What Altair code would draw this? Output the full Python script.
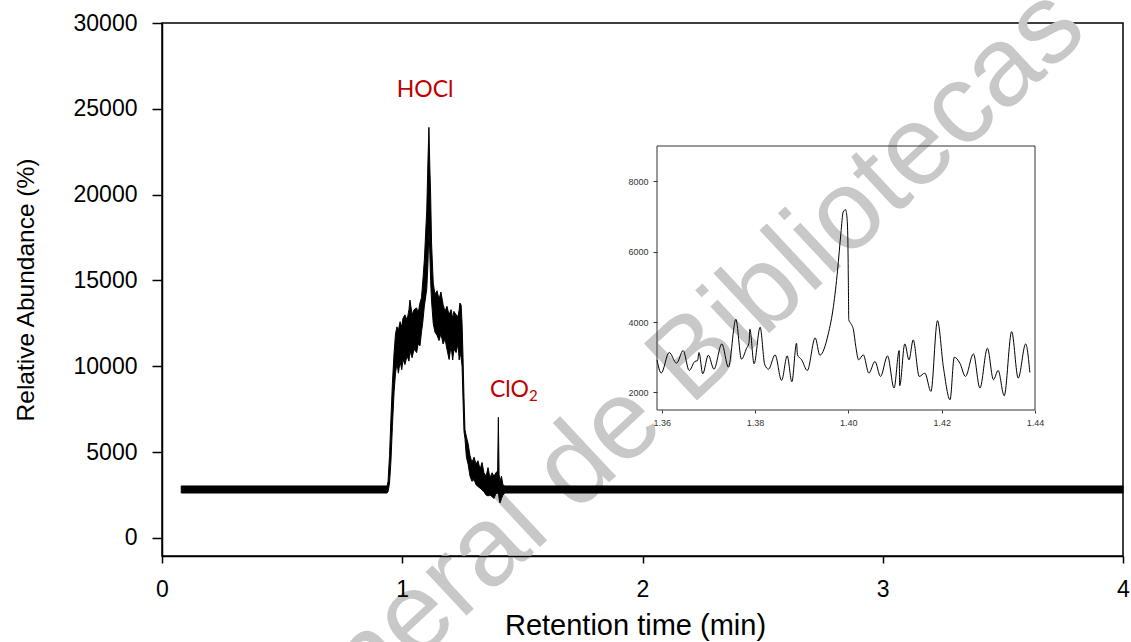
import altair as alt
import pandas as pd

# ---------------- data ----------------
# main chromatogram: retention time (min) with the low / high envelope of the noisy signal
trace_t = [0.080, 0.937, 0.941, 0.947, 0.953, 0.959, 0.966, 0.972, 0.978, 0.984,
           0.991, 0.998, 1.003, 1.011, 1.020, 1.028, 1.032, 1.041, 1.049, 1.060,
           1.066, 1.074, 1.080, 1.085, 1.092, 1.102, 1.107, 1.111, 1.115, 1.118,
           1.122, 1.129, 1.136, 1.145, 1.153, 1.161, 1.170, 1.178, 1.186, 1.195,
           1.203, 1.210, 1.215, 1.224, 1.232, 1.237, 1.240, 1.245, 1.249, 1.253,
           1.257, 1.261, 1.267, 1.274, 1.282, 1.290, 1.299, 1.307, 1.315, 1.324,
           1.332, 1.340, 1.349, 1.357, 1.365, 1.374, 1.382, 1.390, 1.397, 1.400,
           1.403, 1.407, 1.413, 1.419, 1.427, 4.000]
trace_lo = [2620, 2620, 2700, 3200, 4500, 6500, 8500, 9600, 10200, 9600,
            10300, 9800, 10400, 10100, 10600, 10300, 10900, 10500, 11000, 10800,
            11300, 11200, 12000, 12500, 13500, 14500, 16000, 18000, 16500, 15000,
            13800, 12500, 12000, 11800, 11500, 11900, 11300, 11600, 11000, 10400,
            11200, 10370, 11000, 10800, 11300, 10370, 10800, 10500, 10000, 8000,
            6200, 5800, 4700, 4300, 3600, 3300, 3400, 3100, 3000, 2900,
            2800, 2700, 2500, 2450, 2500, 2400, 2300, 2600, 2600, 2700,
            2300, 2040, 2300, 2500, 2620, 2620]
trace_hi = [3030, 3030, 3300, 4800, 7000, 9000, 10800, 11900, 12300, 12100,
            12600, 12300, 12800, 13000, 12700, 13300, 13860, 13000, 13300, 13400,
            13100, 13700, 14000, 14850, 16190, 19100, 22000, 23920, 21500, 20100,
            17180, 14850, 14200, 14400, 13900, 14330, 13600, 13200, 13500, 13000,
            13300, 12800, 13200, 13000, 12900, 13300, 13690, 13570, 12500, 10500,
            8200, 6300, 5900, 5500, 4800, 4400, 4700, 4300, 4500, 4000,
            4400, 3800, 3600, 4100, 3500, 3800, 3600, 3800, 3900, 7030,
            3700, 3300, 3600, 3100, 3030, 3030]

# inset: zoom on the ClO2 peak
inset_t = [1.3590, 1.3599, 1.3616, 1.3632, 1.3646, 1.3659, 1.3671, 1.3677, 1.3680, 1.3688,
           1.3700, 1.3712, 1.3729, 1.3743, 1.3759, 1.3771, 1.3782, 1.3787, 1.3789, 1.3798,
           1.3811, 1.3821, 1.3829, 1.3843, 1.3857, 1.3869, 1.3879, 1.3889, 1.3891, 1.3900,
           1.3912, 1.3929, 1.3939, 1.3957, 1.3968, 1.3977, 1.3984, 1.3989, 1.3994, 1.3997,
           1.3999, 1.4000, 1.4001, 1.4005, 1.4011, 1.4016, 1.4022, 1.4032, 1.4044, 1.4057,
           1.4069, 1.4084, 1.4098, 1.4109, 1.4110, 1.4121, 1.4130, 1.4139, 1.4152, 1.4164,
           1.4177, 1.4191, 1.4204, 1.4218, 1.4227, 1.4239, 1.4251, 1.4268, 1.4282, 1.4298,
           1.4311, 1.4321, 1.4334, 1.4350, 1.4364, 1.4380, 1.4389]
inset_v = [2925, 2548, 3133, 2831, 3189, 2623, 2878, 2906, 3133, 2529,
           3057, 2661, 3378, 2717, 4077, 2944, 3256, 3397, 3794, 2812,
           3850, 2784, 2661, 3067, 2340, 3038, 2302, 3397, 3067, 2925,
           2623, 3548, 3057, 3661, 4436, 5474, 6512, 7126, 7192, 6984,
           6324, 5191, 4058, 3964, 3775, 3303, 2925, 3067, 2548, 2878,
           2453, 3038, 2123, 3189, 2189, 3378, 2925, 3492, 2453, 2548,
           2028, 4039, 2689, 1792, 3001, 2831, 2453, 3095, 2123, 3256,
           2359, 2623, 1906, 3727, 2406, 3378, 2566]

main_x_domain = [0, 4]
main_y_domain = [-1050, 30000]
main_x_ticks = [0, 1, 2, 3, 4]
main_y_ticks = [0, 5000, 10000, 15000, 20000, 25000, 30000]
inset_x_domain = [1.359, 1.44]
inset_y_domain = [1500, 9000]
inset_x_ticks = [1.36, 1.38, 1.40, 1.42, 1.44]
inset_y_ticks = [2000, 4000, 6000, 8000]

label_text = ["HOCl", "ClO", "2"]
label_t = [0.977, 1.365, 1.528]
label_v = [25706, 8213, 7980]
label_size = [23, 23, 15]

watermark_text = ["General de Bibliotecas"]

# ---------------- chart ----------------
W, H = 961, 533
AX_FONT = "Liberation Sans"

trace = pd.DataFrame({"t": trace_t, "lo": trace_lo, "hi": trace_hi})
labels = pd.DataFrame({"t": label_t, "v": label_v, "label": label_text, "size": label_size})
inset = pd.DataFrame({"t": inset_t, "v": inset_v})
frame = pd.DataFrame({"t": [inset_x_domain[0]], "t2": [inset_x_domain[1]],
                      "v": [inset_y_domain[0]], "v2": [inset_y_domain[1]]})
wm = pd.DataFrame({"text": watermark_text})


def main_x(field):
    return alt.X(field, scale=alt.Scale(domain=main_x_domain, nice=False, zero=False),
                 axis=alt.Axis(values=main_x_ticks, format="d", orient="bottom", grid=False,
                               labelFont=AX_FONT, labelFontSize=23, labelColor="black",
                               labelPadding=15, labelFlush=False, labelOverlap=False,
                               tickSize=7, tickColor="black", tickWidth=1.5,
                               domainColor="black", domainWidth=1.5,
                               title="Retention time (min)", titleFont=AX_FONT,
                               titleFontSize=29, titleFontWeight="normal", titleColor="black",
                               titleX=473, titleY=78, titleBaseline="alphabetic",
                               titleAlign="center", zindex=1))


def main_y(field):
    return alt.Y(field, scale=alt.Scale(domain=main_y_domain, nice=False, zero=False),
                 axis=alt.Axis(values=main_y_ticks, format="d", orient="left", grid=False,
                               labelFont=AX_FONT, labelFontSize=23, labelColor="black",
                               labelPadding=15, labelFlush=False, labelOverlap=False,
                               tickSize=10, tickColor="black", tickWidth=1.5,
                               domainColor="black", domainWidth=1.5,
                               title="Relative Abundance (%)", titleFont=AX_FONT,
                               titleFontSize=24.5, titleFontWeight="normal", titleColor="black",
                               titleX=-129, titleBaseline="alphabetic", zindex=1))


def inset_x(field):
    return alt.X(field, scale=alt.Scale(domain=inset_x_domain, range=[495, 873], nice=False, zero=False),
                 axis=alt.Axis(values=inset_x_ticks, format=".2f", orient="bottom", offset=-146,
                               grid=False, domain=False, labelFont=AX_FONT, labelFontSize=9,
                               labelColor="#333333", labelPadding=5, labelFlush=False,
                               labelOverlap=False, tickSize=3, tickColor="#333333", title=None,
                               zindex=1))


def inset_y(field):
    return alt.Y(field, scale=alt.Scale(domain=inset_y_domain, range=[387, 123], nice=False, zero=False),
                 axis=alt.Axis(values=inset_y_ticks, format="d", orient="left", offset=-495,
                               grid=False, domain=False, labelFont=AX_FONT, labelFontSize=9,
                               labelColor="#333333", labelPadding=5, labelFlush=False,
                               labelOverlap=False, tickSize=4, tickColor="#333333", title=None,
                               zindex=1))


watermark = alt.Chart(wm).mark_text(
    font=AX_FONT, fontSize=113, color="#c8c8c8", align="right", baseline="alphabetic", angle=317
).encode(x=alt.value(928), y=alt.value(11), text="text:N")

area = alt.Chart(trace).mark_area(color="black", stroke="black", strokeWidth=1).encode(
    x=main_x("t:Q"), y=main_y("lo:Q"), y2="hi:Q")

text = alt.Chart(labels).mark_text(font="Lato", color="#C00000", align="left",
                                   baseline="alphabetic").encode(
    x=main_x("t:Q"), y=main_y("v:Q"), text="label:N", size=alt.Size("size:Q", scale=None))

main = alt.layer(watermark, area, text)

inset_line = alt.Chart(inset).mark_line(color="black", strokeWidth=1, interpolate="monotone").encode(
    x=inset_x("t:Q"), y=inset_y("v:Q"))
inset_box = alt.Chart(frame).mark_rect(fillOpacity=0, stroke="#333333", strokeWidth=1).encode(
    x=inset_x("t:Q"), x2="t2:Q", y=inset_y("v:Q"), y2="v2:Q")

inset_chart = alt.layer(inset_box, inset_line)

chart = alt.layer(main, inset_chart).resolve_scale(
    x="independent", y="independent"
).resolve_axis(
    x="independent", y="independent"
).properties(
    width=W, height=H,
    autosize=alt.AutoSizeParams(type="none"),
    padding={"left": 162, "top": 23, "right": 8, "bottom": 86},
    background="white",
).configure_view(stroke="black", strokeWidth=1.5)

chart.save("out.html", embed_options={"renderer": "svg", "actions": False})
